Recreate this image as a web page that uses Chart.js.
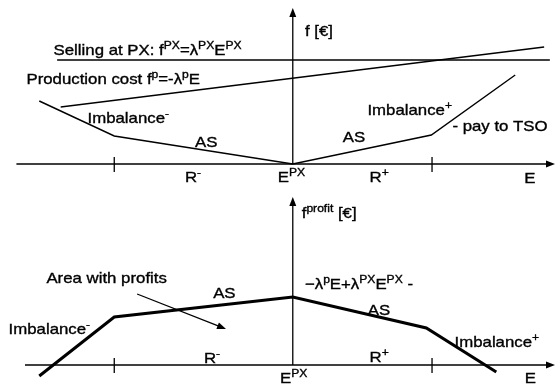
<!DOCTYPE html>
<html>
  <head>
    <title>PX selling, imbalance and profit</title>
    <script src="https://cdn.jsdelivr.net/npm/chart.js@4"></script>
    <style>
      body { margin: 0; background: #fff; }
      .panel { width: 557px; height: 194px; }
    </style>
  </head>
  <body>
    <div class="panel"><canvas id="top" width="557" height="194"></canvas></div>
    <div class="panel"><canvas id="bottom" width="557" height="194"></canvas></div>
    <script>
      // energy axis, E^PX at 0
      const eRange = [-82, 74];
      const rMinus = -50;
      const rPlus = 39;

      // top panel: costs and revenues f [€]
      const topRange = [-15, 82];
      const sellingE = [-66, 72];
      const sellingF = [52, 52];
      const costE = [-65, 70.4];
      const costF = [28.5, 58.5];
      const imbalanceE = [-71, -50, 0, 38.8, 62.3];
      const imbalanceF = [31.5, 14, 0, 14.5, 44.5];

      // bottom panel: profit f^profit [€]
      const bottomRange = [-11.5, 85.5];
      const profitE = [-71, -50, 0, 37.4, 57];
      const profitF = [-5.5, 24, 34, 18.5, -3.5];
      const arrowE = [-43.6, -18.7];
      const arrowF = [35.5, 18];

      // text: [text, superscript?]
      const topLabels = [
        { e: 3.4, f: 64, parts: [['f [€]', 0]] },
        { e: -67, f: 54.5, parts: [['Selling at PX: f', 0], ['PX', 1], ['=λ', 0], ['PX', 1], ['E', 0], ['PX', 1]] },
        { e: -74.6, f: 40, parts: [['Production cost f', 0], ['p', 1], ['=-λ', 0], ['p', 1], ['E', 0]] },
        { e: -57.5, f: 20.5, parts: [['Imbalance', 0], ['-', 1]] },
        { e: -27.4, f: 8.5, parts: [['AS', 0]] },
        { e: 14, f: 11, parts: [['AS', 0]] },
        { e: 20.9, f: 24.5, parts: [['Imbalance', 0], ['+', 1]] },
        { e: 44.7, f: 16.5, parts: [['- pay to TSO', 0]] },
        { e: -30.2, f: -9, parts: [['R', 0], ['-', 1]] },
        { e: -4.2, f: -9, parts: [['E', 0], ['PX', 1]] },
        { e: 21.5, f: -9, parts: [['R', 0], ['+', 1]] },
        { e: 64.8, f: -9.5, parts: [['E', 0]] },
      ];
      const bottomLabels = [
        { e: 2.5, f: 73.5, parts: [['f', 0], ['profit', 1], [' [€]', 0]] },
        { e: 3.4, f: 38, parts: [['−λ', 0], ['p', 1], ['E+λ', 0], ['PX', 1], ['E', 0], ['PX', 1], [' -', 0]] },
        { e: -22.3, f: 33.5, parts: [['AS', 0]] },
        { e: 21, f: 25, parts: [['AS', 0]] },
        { e: -69, f: 41, parts: [['Area with profits', 0]] },
        { e: -79.6, f: 15.5, parts: [['Imbalance', 0], ['-', 1]] },
        { e: 45.3, f: 9, parts: [['Imbalance', 0], ['+', 1]] },
        { e: -24.9, f: 1, parts: [['R', 0], ['-', 1]] },
        { e: 21.5, f: 1.5, parts: [['R', 0], ['+', 1]] },
        { e: -3.6, f: -9, parts: [['E', 0], ['PX', 1]] },
        { e: 65, f: -9, parts: [['E', 0]] },
      ];

      const FONT = '"Liberation Sans", Arial, sans-serif';
      const SIZE = 15;
      const STRETCH = 1.12;

      function pts(xs, ys) {
        return xs.map((x, i) => ({ x: x, y: ys[i] }));
      }

      function arrowHead(ctx, x0, y0, x1, y1, len, half) {
        const a = Math.atan2(y1 - y0, x1 - x0);
        ctx.beginPath();
        ctx.moveTo(x1, y1);
        ctx.lineTo(x1 - len * Math.cos(a) + half * Math.sin(a), y1 - len * Math.sin(a) - half * Math.cos(a));
        ctx.lineTo(x1 - len * Math.cos(a) - half * Math.sin(a), y1 - len * Math.sin(a) + half * Math.cos(a));
        ctx.closePath();
        ctx.fill();
      }

      // text with superscripts, slightly wide and heavy like the scanned figure
      function drawRich(ctx, x, y, parts) {
        ctx.save();
        ctx.translate(x, y);
        ctx.scale(STRETCH, 1);
        ctx.lineWidth = 0.35;
        let cx = 0;
        for (const [text, sup] of parts) {
          ctx.font = (sup ? SIZE * 0.72 : SIZE) + 'px ' + FONT;
          const ty = sup ? -SIZE * 0.42 : 0;
          ctx.fillText(text, cx, ty);
          ctx.strokeText(text, cx, ty);
          cx += ctx.measureText(text).width;
        }
        ctx.restore();
      }

      function diagramPlugin(opts) {
        return {
          id: 'diagram',
          afterDraw(chart) {
            const { ctx } = chart;
            const xs = chart.scales.x;
            const ys = chart.scales.y;
            const px = (e) => xs.getPixelForValue(e);
            const py = (f) => ys.getPixelForValue(f);
            ctx.save();
            ctx.strokeStyle = '#000';
            ctx.fillStyle = '#000';
            ctx.lineWidth = 1.3;
            // horizontal E axis
            const x0 = px(opts.axisFrom), x1 = px(eRange[1]) - 2, y0 = py(0);
            ctx.beginPath();
            ctx.moveTo(x0, y0);
            ctx.lineTo(x1 - 6, y0);
            ctx.stroke();
            arrowHead(ctx, x0, y0, x1, y0, 9, 3.5);
            // vertical f axis
            const yTop = py(opts.fTop);
            ctx.beginPath();
            ctx.moveTo(px(0), y0);
            ctx.lineTo(px(0), yTop + 6);
            ctx.stroke();
            arrowHead(ctx, px(0), y0, px(0), yTop, 9, 3.5);
            // region boundaries
            for (const r of [rMinus, rPlus]) {
              ctx.beginPath();
              ctx.moveTo(px(r), y0 - 7);
              ctx.lineTo(px(r), y0 + 8);
              ctx.stroke();
            }
            if (opts.arrow) {
              const ax0 = px(arrowE[0]), ay0 = py(arrowF[0]);
              const ax1 = px(arrowE[1]), ay1 = py(arrowF[1]);
              ctx.beginPath();
              ctx.moveTo(ax0, ay0);
              ctx.lineTo(ax1 - 6, ay1 - 2.4);
              ctx.stroke();
              arrowHead(ctx, ax0, ay0, ax1, ay1, 9, 3.5);
            }
            ctx.textBaseline = 'alphabetic';
            for (const l of opts.labels) {
              drawRich(ctx, px(l.e), py(l.f), l.parts);
            }
            ctx.restore();
          },
        };
      }

      function makeChart(id, datasets, fRange, opts) {
        return new Chart(document.getElementById(id), {
          type: 'scatter',
          data: { datasets: datasets },
          options: {
            responsive: false,
            animation: false,
            layout: { padding: 0 },
            plugins: { legend: { display: false }, tooltip: { enabled: false } },
            scales: {
              x: { type: 'linear', min: eRange[0], max: eRange[1], display: false },
              y: { type: 'linear', min: fRange[0], max: fRange[1], display: false },
            },
          },
          plugins: [diagramPlugin(opts)],
        });
      }

      const lineStyle = { showLine: true, pointRadius: 0, borderColor: '#000', backgroundColor: '#000', fill: false };

      makeChart('top', [
        { ...lineStyle, label: 'Selling at PX', data: pts(sellingE, sellingF), borderWidth: 1.4 },
        { ...lineStyle, label: 'Production cost', data: pts(costE, costF), borderWidth: 1.4 },
        { ...lineStyle, label: 'Imbalance / AS', data: pts(imbalanceE, imbalanceF), borderWidth: 1.4 },
      ], topRange, { axisFrom: -77.4, fTop: 78, labels: topLabels });

      makeChart('bottom', [
        { ...lineStyle, label: 'Profit', data: pts(profitE, profitF), borderWidth: 3 },
      ], bottomRange, { axisFrom: -75, fTop: 84, labels: bottomLabels, arrow: true });
    </script>
  </body>
</html>
